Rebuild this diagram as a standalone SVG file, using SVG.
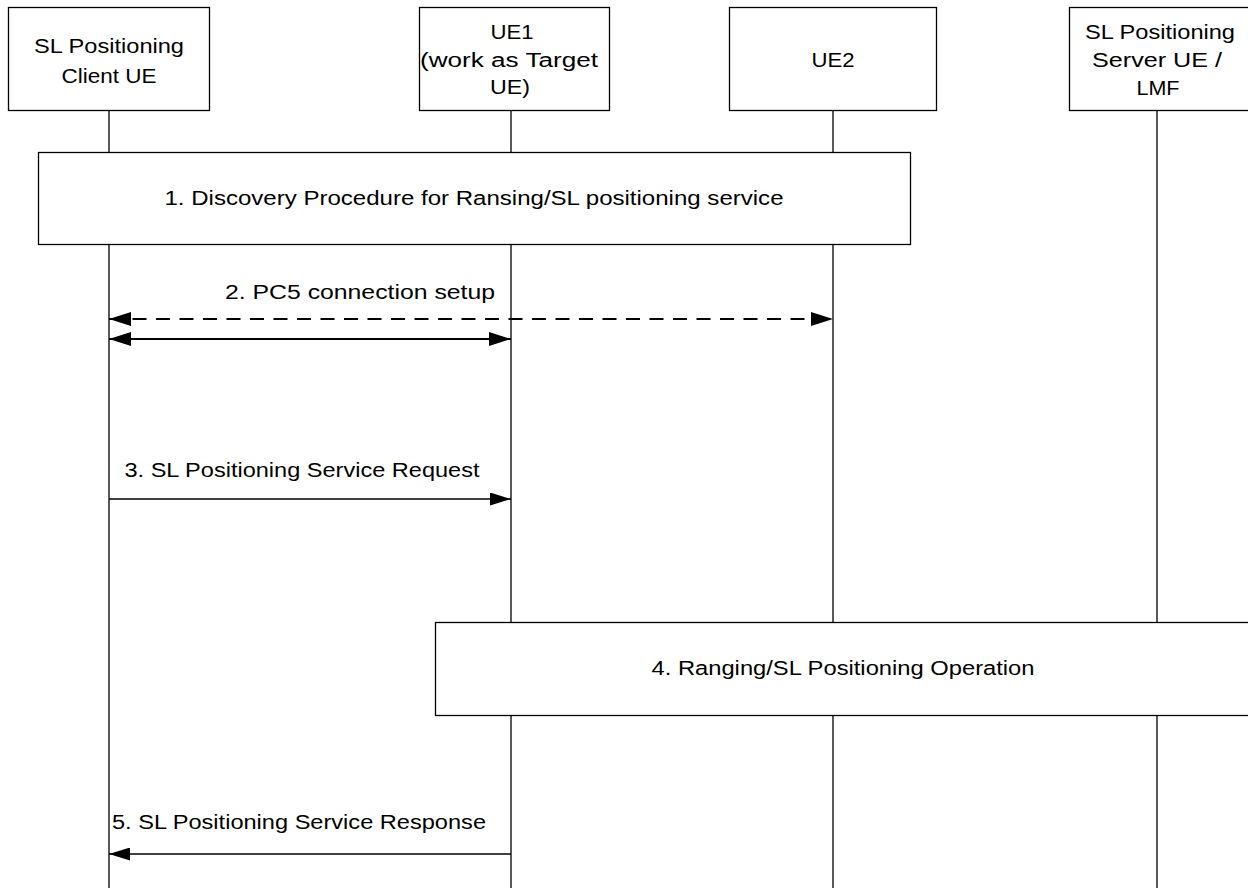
<svg xmlns="http://www.w3.org/2000/svg" width="1248" height="888" viewBox="0 0 1248 888">
<style>
.box{fill:#fff;stroke:#000;stroke-width:1.3}
.life{stroke:#000;stroke-width:1.3;fill:none}
.msg{stroke:#000;stroke-width:2;fill:none}
.thin{stroke:#000;stroke-width:1.5;fill:none}
text{font-family:"Liberation Sans",Arial,sans-serif;font-size:20px;fill:#000;text-anchor:middle}
</style>
<defs>
<marker id="ah" markerUnits="userSpaceOnUse" viewBox="0 0 22 14" refX="22" refY="7" markerWidth="22" markerHeight="14" orient="auto-start-reverse">
<path d="M0,0 L22,7 L0,14 Z" fill="#000"/>
</marker>
<marker id="ahs" markerUnits="userSpaceOnUse" viewBox="0 0 21 13" refX="21" refY="6.5" markerWidth="21" markerHeight="13" orient="auto-start-reverse">
<path d="M0,0 L21,6.5 L0,13 Z" fill="#000"/>
</marker>
</defs>
<rect width="1248" height="888" fill="#fff"/>
<g id="lifelines">
<line class="life" x1="109" y1="110" x2="109" y2="888"/>
<line class="life" x1="511" y1="110" x2="511" y2="888"/>
<line class="life" x1="833" y1="110" x2="833" y2="888"/>
<line class="life" x1="1157" y1="110" x2="1157" y2="888"/>
</g>
<g id="client">
<rect class="box" x="8.5" y="7.5" width="201" height="103"/>
<text x="109" y="53" textLength="150" lengthAdjust="spacingAndGlyphs">SL Positioning</text>
<text x="109" y="83" textLength="95" lengthAdjust="spacingAndGlyphs">Client UE</text>
</g>
<g id="ue1">
<rect class="box" x="419.5" y="7.5" width="190" height="103"/>
<text x="512" y="39" textLength="43" lengthAdjust="spacingAndGlyphs">UE1</text>
<text x="509" y="67" textLength="178" lengthAdjust="spacingAndGlyphs">(work as Target</text>
<text x="510" y="94" textLength="40" lengthAdjust="spacingAndGlyphs">UE)</text>
</g>
<g id="ue2">
<rect class="box" x="729.5" y="7.5" width="207" height="103"/>
<text x="833" y="67" textLength="43" lengthAdjust="spacingAndGlyphs">UE2</text>
</g>
<g id="server">
<rect class="box" x="1069.5" y="7.5" width="190" height="103"/>
<text x="1160" y="39" textLength="150" lengthAdjust="spacingAndGlyphs">SL Positioning</text>
<text x="1157" y="67" textLength="130" lengthAdjust="spacingAndGlyphs">Server UE /</text>
<text x="1158" y="95" textLength="43" lengthAdjust="spacingAndGlyphs">LMF</text>
</g>
<g id="discovery">
<rect class="box" x="38.5" y="152.5" width="872" height="92"/>
<text x="474" y="205" textLength="619" lengthAdjust="spacingAndGlyphs">1. Discovery Procedure for Ransing/SL positioning service</text>
</g>
<g id="ranging">
<rect class="box" x="435.5" y="622.5" width="830" height="93"/>
<text x="843" y="675" textLength="383" lengthAdjust="spacingAndGlyphs">4. Ranging/SL Positioning Operation</text>
</g>
<g id="connectors">
<line class="msg" x1="109" y1="319" x2="833" y2="319" stroke-dasharray="14 9.5" marker-start="url(#ah)" marker-end="url(#ah)"/>
<line class="msg" x1="109" y1="339" x2="511" y2="339" marker-start="url(#ah)" marker-end="url(#ah)"/>
<text x="360" y="299" textLength="270" lengthAdjust="spacingAndGlyphs">2. PC5 connection setup</text>
<line class="thin" x1="109" y1="499" x2="511" y2="499" marker-end="url(#ahs)"/>
<text x="302" y="477" textLength="355" lengthAdjust="spacingAndGlyphs">3. SL Positioning Service Request</text>
<line class="thin" x1="511" y1="854" x2="109" y2="854" marker-end="url(#ahs)"/>
<text x="299" y="829" textLength="374" lengthAdjust="spacingAndGlyphs">5. SL Positioning Service Response</text>
</g>
</svg>
